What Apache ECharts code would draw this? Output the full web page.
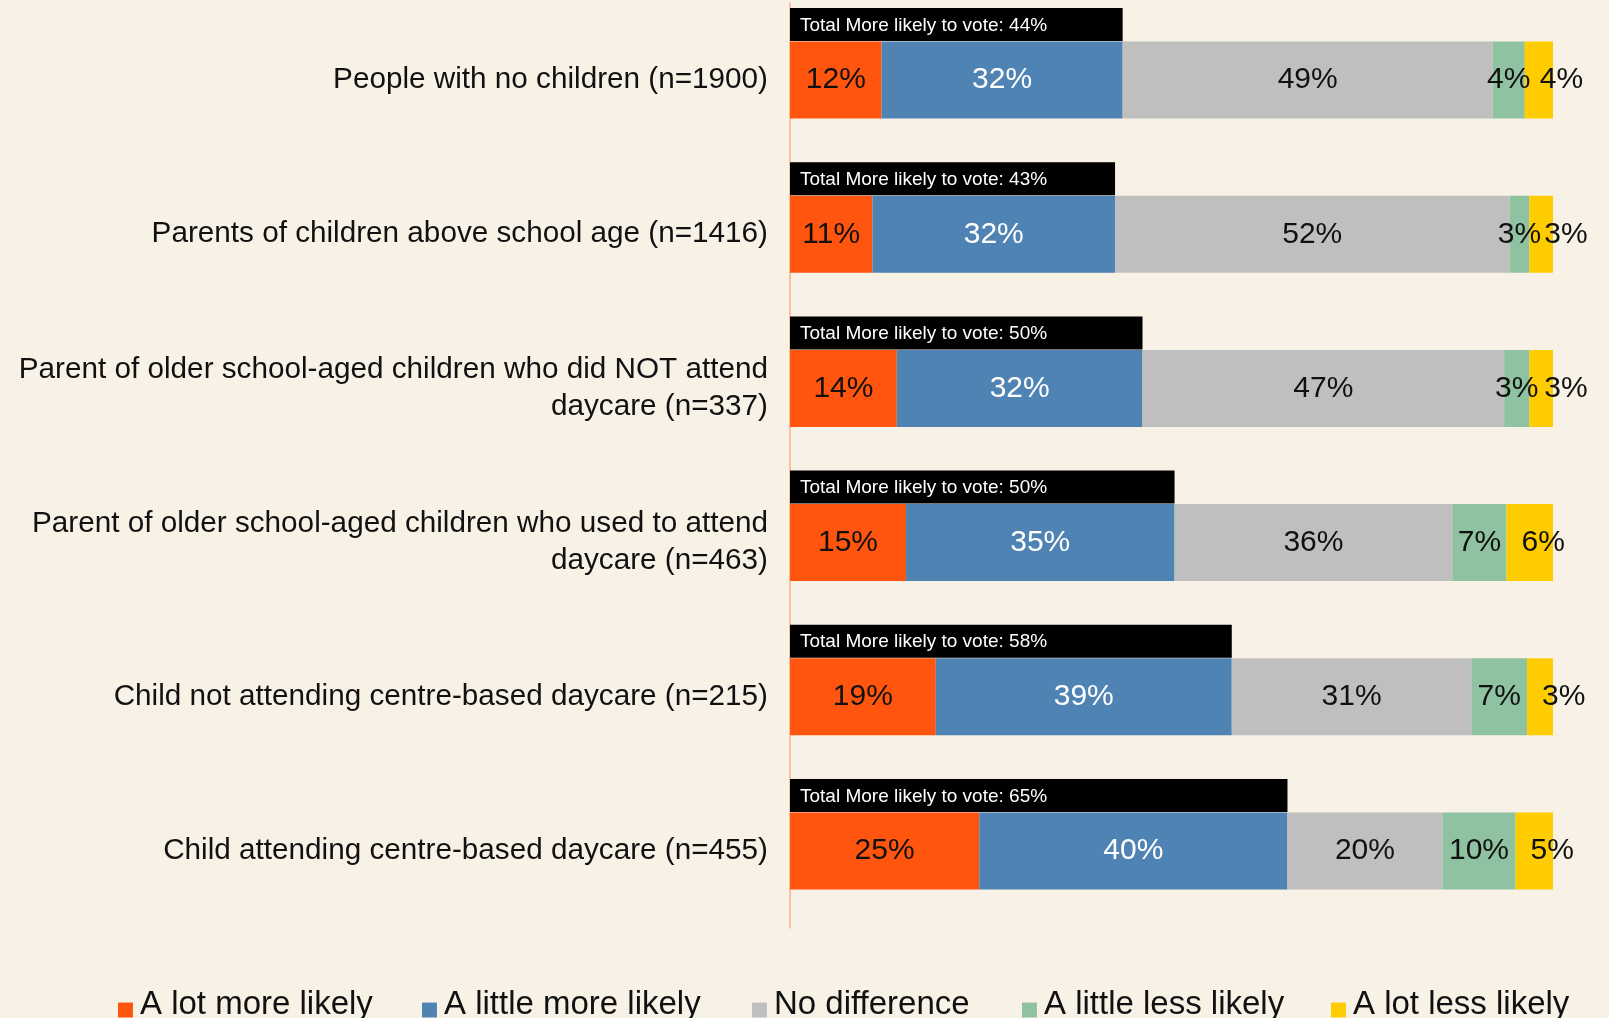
<!DOCTYPE html>
<html><head><meta charset="utf-8">
<script src="https://cdn.jsdelivr.net/npm/echarts@6/dist/echarts.min.js"></script>
<style>html,body{margin:0;padding:0;background:#F8F1E6;} #c{width:1609px;height:1018px;}</style>
</head><body><div id="c"></div>
<script>
const categories = [
  'People with no children (n=1900)',
  'Parents of children above school age (n=1416)',
  'Parent of older school-aged children who did NOT attend\ndaycare (n=337)',
  'Parent of older school-aged children who used to attend\ndaycare (n=463)',
  'Child not attending centre-based daycare (n=215)',
  'Child attending centre-based daycare (n=455)'
];
const seriesNames = ['A lot more likely', 'A little more likely', 'No difference', 'A little less likely', 'A lot less likely'];
const aLotMore    = [12.0, 10.8, 14.0, 15.2, 19.1, 24.8];
const aLittleMore = [31.6, 31.8, 32.2, 35.2, 38.8, 40.4];
const noDiff      = [48.5, 51.7, 47.4, 36.4, 31.4, 20.3];
const aLittleLess = [4.2, 2.6, 3.3, 7.1, 7.3, 9.6];
const aLotLess    = [3.7, 3.1, 3.1, 6.1, 3.4, 4.9];
const totalLabels = [44, 43, 50, 50, 58, 65];

const colors = ['#FF550F', '#4F83B3', '#BFBFBF', '#8FC2A0', '#FFCC00'];
const labelColors = ['#111', '#fff', '#111', '#111', '#111'];
const values = [aLotMore, aLittleMore, noDiff, aLittleLess, aLotLess];
const totals = aLotMore.map((v, i) => +(v + aLittleMore[i]).toFixed(1));

const barFont = '"Liberation Sans Narrow", "Liberation Sans", Arial, sans-serif';
const mainFont = '"Liberation Sans", Arial, sans-serif';

const chart = echarts.init(document.getElementById('c'), null, {renderer: 'canvas'});

const mainSeries = values.map((arr, k) => ({
  name: seriesNames[k],
  type: 'bar',
  stack: 'main',
  xAxisIndex: 0,
  yAxisIndex: 0,
  barWidth: 77,
  data: arr,
  itemStyle: {color: colors[k]},
  label: {
    show: true,
    position: k === 4 ? 'insideLeft' : 'inside',
    distance: k === 4 ? 15 : 5,
    color: labelColors[k],
    fontFamily: barFont,
    fontSize: 30,
    formatter: p => Math.round(p.value) + '%'
  }
}));

const totalSeries = {
  name: 'Total',
  type: 'bar',
  xAxisIndex: 1,
  yAxisIndex: 1,
  barWidth: 33,
  data: totals,
  itemStyle: {color: '#000'},
  label: {
    show: true,
    position: 'insideLeft',
    distance: 10,
    offset: [0, 1],
    color: '#fff',
    fontFamily: mainFont,
    fontSize: 19,
    formatter: p => 'Total More likely to vote: ' + totalLabels[p.dataIndex] + '%'
  }
};

const legendX = [113, 417, 747, 1017, 1326];
const legends = seriesNames.map((n, k) => ({
  data: [n],
  left: legendX[k],
  top: 983,
  padding: 5,
  orient: 'horizontal',
  itemWidth: 15,
  itemHeight: 26,
  icon: 'path://M0,0M0,7.4L10,7.4L10,17.4L0,17.4Z',
  textStyle: {fontFamily: mainFont, fontSize: 33, color: '#111', padding: [0, 0, 0, 2]},
  selectedMode: false
}));

chart.setOption({
  animation: false,
  backgroundColor: '#F8F1E6',
  grid: [
    {left: 790, top: 3, width: 763, height: 925, outerBoundsMode: 'none'},
    {left: 790, top: -52.5, width: 763, height: 925, outerBoundsMode: 'none'}
  ],
  xAxis: [
    {type: 'value', gridIndex: 0, min: 0, max: 100, show: false},
    {type: 'value', gridIndex: 1, min: 0, max: 100, show: false}
  ],
  yAxis: [
    {type: 'category', gridIndex: 0, data: categories, inverse: true,
     axisLine: {show: true, lineStyle: {color: '#F9B08A', width: 1.5}},
     axisTick: {show: false},
     axisLabel: {margin: 22, fontFamily: mainFont, fontSize: 29.7, color: '#111', lineHeight: 37, align: 'right'}},
    {type: 'category', gridIndex: 1, data: categories, inverse: true, show: false}
  ],
  legend: legends,
  series: mainSeries.concat([totalSeries])
});
</script></body></html>
